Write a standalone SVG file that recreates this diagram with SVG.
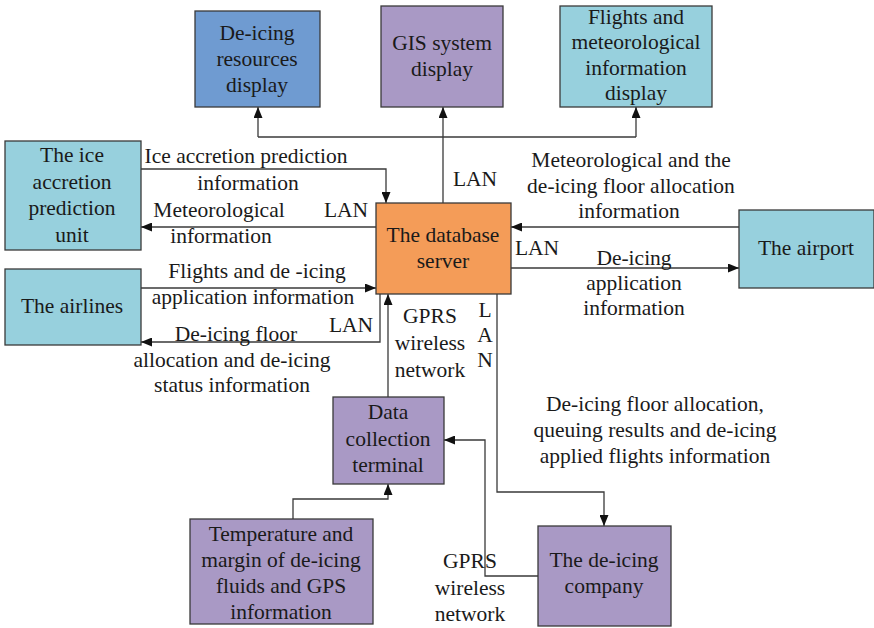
<svg xmlns="http://www.w3.org/2000/svg" width="874" height="628" viewBox="0 0 874 628">
  <style>
    text { font-family: "Liberation Serif", "Times New Roman", serif; font-size: 21.5px; fill: #1a1a1a; text-anchor: middle; }
    .box { stroke: #3a3a3a; stroke-width: 1.3; }
    .blue { fill: #6f9bd1; }
    .cyan { fill: #97d0dd; }
    .purple { fill: #a999c5; }
    .orange { fill: #f49c58; }
    .wire { fill: none; stroke: #3a3a3a; stroke-width: 1.3; marker-end: url(#arrow); }
    .plain { fill: none; stroke: #3a3a3a; stroke-width: 1.3; }
  </style>
  <defs>
    <marker id="arrow" viewBox="0 0 11 9" refX="11" refY="4.5" markerWidth="11" markerHeight="9" markerUnits="userSpaceOnUse" orient="auto">
      <path d="M0,0 L11,4.5 L0,9 Z" fill="#111"/>
    </marker>
  </defs>

  <!-- connectors -->
  <g id="connectors">
    <!-- database server to the three displays -->
    <path class="wire" d="M443,203 V107"/>
    <path class="plain" d="M258,137 H636"/>
    <path class="wire" d="M258,137 V107"/>
    <path class="wire" d="M636,137 V107"/>
    <!-- ice accretion unit <-> server -->
    <path class="wire" d="M141,169 H386 V203"/>
    <path class="wire" d="M376,227 H141"/>
    <!-- airlines <-> server -->
    <path class="wire" d="M141,288 H376"/>
    <path class="wire" d="M380,294 V342 H141"/>
    <!-- airport <-> server -->
    <path class="wire" d="M739,227 H511"/>
    <path class="wire" d="M511,268 H739"/>
    <!-- data collection terminal to server -->
    <path class="wire" d="M388,397 V294"/>
    <!-- server to de-icing company -->
    <path class="wire" d="M497,294 V492 H604 V526"/>
    <!-- de-icing company to data collection terminal -->
    <path class="wire" d="M538,576 H485 V440 H444"/>
    <!-- sensors to data collection terminal -->
    <path class="wire" d="M293,519 V499 H388 V484"/>
  </g>

  <!-- connector labels -->
  <g id="labels">
    <text x="475" y="186">LAN</text>
    <text x="246" y="163">Ice accretion prediction</text>
    <text x="248" y="190">information</text>
    <text x="219" y="217">Meteorological</text>
    <text x="221" y="243">information</text>
    <text x="346" y="217">LAN</text>
    <text x="257" y="278">Flights and de -icing</text>
    <text x="253" y="304">application information</text>
    <text x="351" y="332">LAN</text>
    <text x="236" y="341">De-icing floor</text>
    <text x="232" y="367">allocation and de-icing</text>
    <text x="232" y="392">status information</text>
    <text x="430" y="323">GPRS</text>
    <text x="430" y="350">wireless</text>
    <text x="430" y="377">network</text>
    <text x="485" y="317">L</text>
    <text x="485" y="342">A</text>
    <text x="485" y="367">N</text>
    <text x="631" y="167">Meteorological  and the</text>
    <text x="631" y="193">de-icing floor allocation</text>
    <text x="629" y="218">information</text>
    <text x="537" y="255">LAN</text>
    <text x="634" y="265">De-icing</text>
    <text x="634" y="290">application</text>
    <text x="634" y="315">information</text>
    <text x="655" y="411">De-icing floor allocation,</text>
    <text x="655" y="437">queuing results and de-icing</text>
    <text x="655" y="463">applied flights information</text>
    <text x="470" y="568">GPRS</text>
    <text x="470" y="595">wireless</text>
    <text x="470" y="621">network</text>
  </g>

  <!-- nodes -->
  <g id="deicing-resources-display">
    <rect class="box blue" x="195" y="11" width="125" height="96"/>
    <text x="257" y="40">De-icing</text>
    <text x="257" y="66">resources</text>
    <text x="257" y="92">display</text>
  </g>
  <g id="gis-display">
    <rect class="box purple" x="381" y="6" width="122" height="101"/>
    <text x="442" y="50">GIS system</text>
    <text x="442" y="76">display</text>
  </g>
  <g id="flights-meteo-display">
    <rect class="box cyan" x="560" y="6" width="152" height="101"/>
    <text x="636" y="24">Flights and</text>
    <text x="636" y="49">meteorological</text>
    <text x="636" y="75">information</text>
    <text x="636" y="100">display</text>
  </g>
  <g id="ice-accretion-unit">
    <rect class="box cyan" x="5" y="141" width="136" height="109"/>
    <text x="72" y="162">The ice</text>
    <text x="72" y="189">accretion</text>
    <text x="72" y="215">prediction</text>
    <text x="72" y="242">unit</text>
  </g>
  <g id="airlines">
    <rect class="box cyan" x="5" y="269" width="136" height="76"/>
    <text x="72" y="313">The airlines</text>
  </g>
  <g id="database-server">
    <rect class="box orange" x="376" y="203" width="135" height="91"/>
    <text x="443" y="242">The database</text>
    <text x="443" y="268">server</text>
  </g>
  <g id="airport">
    <rect class="box cyan" x="739" y="210" width="135" height="78"/>
    <text x="806" y="255">The airport</text>
  </g>
  <g id="data-collection-terminal">
    <rect class="box purple" x="333" y="397" width="111" height="87"/>
    <text x="388" y="419">Data</text>
    <text x="388" y="446">collection</text>
    <text x="388" y="472">terminal</text>
  </g>
  <g id="sensor-information">
    <rect class="box purple" x="190" y="519" width="183" height="105"/>
    <text x="281" y="541">Temperature and</text>
    <text x="281" y="567">margin of de-icing</text>
    <text x="281" y="593">fluids and GPS</text>
    <text x="281" y="619">information</text>
  </g>
  <g id="deicing-company">
    <rect class="box purple" x="538" y="526" width="133" height="100"/>
    <text x="604" y="567">The de-icing</text>
    <text x="604" y="593">company</text>
  </g>
</svg>
